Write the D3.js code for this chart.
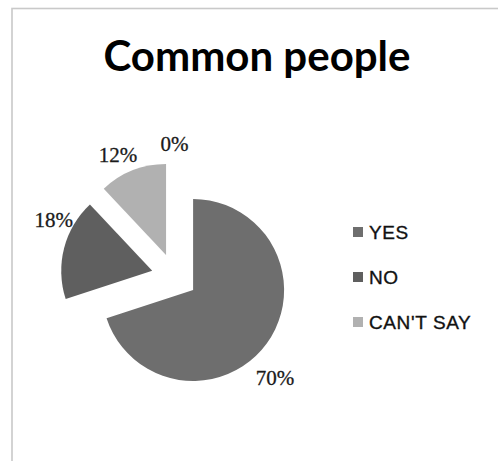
<!DOCTYPE html>
<html>
<head>
<meta charset="utf-8">
<script src="https://cdn.jsdelivr.net/npm/d3@7"></script>
<style>
  html, body { margin: 0; padding: 0; background: #fff; }
  svg { display: block; }
</style>
</head>
<body>
<svg id="chart" width="498" height="461"></svg>
<script>
// Survey answers of common people
const categories = ["YES", "NO", "CAN'T SAY", ""];
const values = [70, 18, 12, 0];
const legendNames = ["YES", "NO", "CAN'T SAY"];
const title = "Common people";

const W = 498, H = 461;
const svg = d3.select("#chart");

const colors = d3.scaleOrdinal()
  .domain(categories)
  .range(["#6e6e6e", "#5f5f5f", "#b1b1b1", "#d0d0d0"]);

// chart frame
svg.append("rect")
  .attr("x", 12).attr("y", 8.5)
  .attr("width", W + 20).attr("height", H + 20)
  .attr("fill", "#fff")
  .attr("stroke", "#c9c9c9")
  .attr("stroke-width", 1.6);

// title
svg.append("text")
  .attr("x", 257).attr("y", 71)
  .attr("text-anchor", "middle")
  .attr("font-family", "Lato, 'Open Sans', sans-serif")
  .attr("font-weight", "bold")
  .attr("font-size", 42)
  .attr("fill", "#000")
  .text(title);

// exploded pie
const cx = 174.5, cy = 276.5, radius = 91, explode = 23;
const pie = d3.pie().sort(null).value(d => d.value).startAngle(0).endAngle(2 * Math.PI);
const arcs = pie(categories.map((c, i) => ({ name: c, value: values[i] })));
const arc = d3.arc().innerRadius(0).outerRadius(radius);

const g = svg.append("g").attr("transform", `translate(${cx},${cy})`);

const mid = a => (a.startAngle + a.endAngle) / 2;
const slices = g.selectAll("g.slice")
  .data(arcs)
  .join("g")
  .attr("class", "slice")
  .attr("transform", a => {
    const m = mid(a);
    return `translate(${Math.sin(m) * explode},${-Math.cos(m) * explode})`;
  });

slices.filter(a => a.value > 0)
  .append("path")
  .attr("d", arc)
  .attr("fill", a => colors(a.data.name));

// percentage labels sit just outside each slice; angle tweaks (degrees) keep them clear of neighbours
const labelShift = [11, 13, -4, 0];
const labelRadius = [120, 111, 111, 110];
slices.append("text")
  .attr("x", (a, i) => Math.sin(mid(a) + labelShift[i] * Math.PI / 180) * labelRadius[i])
  .attr("y", (a, i) => -Math.cos(mid(a) + labelShift[i] * Math.PI / 180) * labelRadius[i])
  .attr("dy", "0.35em")
  .attr("text-anchor", "middle")
  .attr("font-family", "'Liberation Serif', 'DejaVu Serif', serif")
  .attr("font-size", 21)
  .attr("fill", "#1a1a1a")
  .attr("stroke", "#1a1a1a")
  .attr("stroke-width", 0.3)
  .text(a => `${a.data.value}%`);

// legend
const legend = svg.append("g").attr("transform", "translate(353,0)");
const ly = d3.scalePoint().domain(legendNames).range([232, 322]);
const item = legend.selectAll("g.item")
  .data(legendNames)
  .join("g")
  .attr("class", "item")
  .attr("transform", d => `translate(0,${ly(d)})`);
item.append("rect")
  .attr("x", 0).attr("y", -5)
  .attr("width", 10).attr("height", 10)
  .attr("fill", d => colors(d));
item.append("text")
  .attr("x", 16).attr("y", 6.5)
  .attr("font-family", "'Liberation Sans Narrow', 'Liberation Sans', sans-serif")
  .attr("font-size", 19)
  .attr("letter-spacing", 0.6)
  .attr("fill", "#111")
  .attr("stroke", "#111")
  .attr("stroke-width", 0.35)
  .text(d => d);
</script>
</body>
</html>
